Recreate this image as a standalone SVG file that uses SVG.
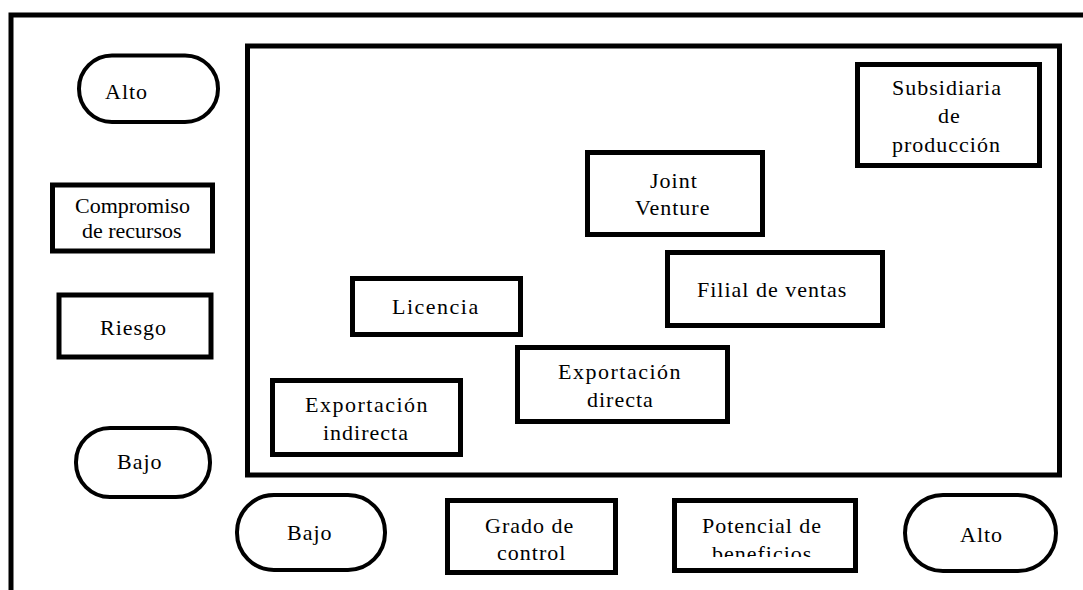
<svg xmlns="http://www.w3.org/2000/svg" width="1083" height="590" viewBox="0 0 1083 590">
<style>
.box{fill:#fff;stroke:#000;stroke-width:5}
.pill{fill:#fff;stroke:#000;stroke-width:4}
.frame{fill:none;stroke:#000;stroke-width:5}
</style>
<defs>
<clipPath id="clipPot"><rect x="674" y="500" width="182" height="57"/></clipPath>
</defs>
<rect x="0" y="0" width="1083" height="590" fill="#fff"/>
<g id="frames">
<path class="frame" d="M11,590 V15 H1083"/>
<rect class="frame" x="247.5" y="46" width="812" height="429"/>
</g>
<g id="connectors"></g>
<g id="alto-left"><rect class="pill" x="79" y="55.5" width="139" height="66.5" rx="33"/><text font-family="Liberation Serif" font-size="22" letter-spacing="1" x="105" y="99">Alto</text></g>
<g id="compromiso"><rect class="box" x="52.5" y="185" width="160" height="66"/><text font-family="Liberation Serif" font-size="22" x="75" y="213">Compromiso</text><text font-family="Liberation Serif" font-size="22" x="82" y="238">de recursos</text></g>
<g id="riesgo"><rect class="box" x="59" y="295" width="152" height="62"/><text font-family="Liberation Serif" font-size="22" letter-spacing="1" x="100" y="335">Riesgo</text></g>
<g id="bajo-left"><rect class="pill" x="76" y="428" width="134" height="69" rx="34"/><text font-family="Liberation Serif" font-size="22" letter-spacing="1" x="117" y="469">Bajo</text></g>
<g id="bajo-bottom"><rect class="pill" x="237" y="495" width="148" height="75" rx="37"/><text font-family="Liberation Serif" font-size="22" letter-spacing="1" x="287" y="540">Bajo</text></g>
<g id="grado"><rect class="box" x="447.5" y="500.5" width="168" height="72"/><text font-family="Liberation Serif" font-size="22" letter-spacing="1" x="485" y="533">Grado de</text><text font-family="Liberation Serif" font-size="22" letter-spacing="1" x="497" y="560">control</text></g>
<g id="potencial"><rect class="box" x="674.5" y="500.5" width="181" height="70"/><text font-family="Liberation Serif" font-size="22" letter-spacing="1" x="702" y="533">Potencial de</text><text font-family="Liberation Serif" font-size="22" letter-spacing="1" x="712" y="561" clip-path="url(#clipPot)">beneficios</text></g>
<g id="alto-right"><rect class="pill" x="905" y="495" width="151" height="76" rx="38"/><text font-family="Liberation Serif" font-size="22" letter-spacing="1" x="960" y="542">Alto</text></g>
<g id="subsidiaria"><rect class="box" x="857.5" y="64.5" width="182" height="101"/><text font-family="Liberation Serif" font-size="22" letter-spacing="1" x="892" y="95">Subsidiaria</text><text font-family="Liberation Serif" font-size="22" letter-spacing="1" x="938" y="123">de</text><text font-family="Liberation Serif" font-size="22" letter-spacing="1" x="892" y="152">producción</text></g>
<g id="joint"><rect class="box" x="587.5" y="152.5" width="175" height="82"/><text font-family="Liberation Serif" font-size="22" letter-spacing="1" x="650" y="188">Joint</text><text font-family="Liberation Serif" font-size="22" letter-spacing="1" x="635" y="215">Venture</text></g>
<g id="filial"><rect class="box" x="667.5" y="252.5" width="215" height="73"/><text font-family="Liberation Serif" font-size="22" letter-spacing="1" x="697" y="297">Filial de ventas</text></g>
<g id="licencia"><rect class="box" x="352.5" y="278.5" width="168" height="56"/><text font-family="Liberation Serif" font-size="22" letter-spacing="1.5" x="392" y="314">Licencia</text></g>
<g id="exp-directa"><rect class="box" x="517.5" y="347.5" width="210" height="74"/><text font-family="Liberation Serif" font-size="22" letter-spacing="1.5" x="558" y="379">Exportación</text><text font-family="Liberation Serif" font-size="22" letter-spacing="1" x="587" y="407">directa</text></g>
<g id="exp-indirecta"><rect class="box" x="272.5" y="380.5" width="188" height="74"/><text font-family="Liberation Serif" font-size="22" letter-spacing="1.5" x="305" y="412">Exportación</text><text font-family="Liberation Serif" font-size="22" letter-spacing="1" x="323" y="440">indirecta</text></g>
</svg>
